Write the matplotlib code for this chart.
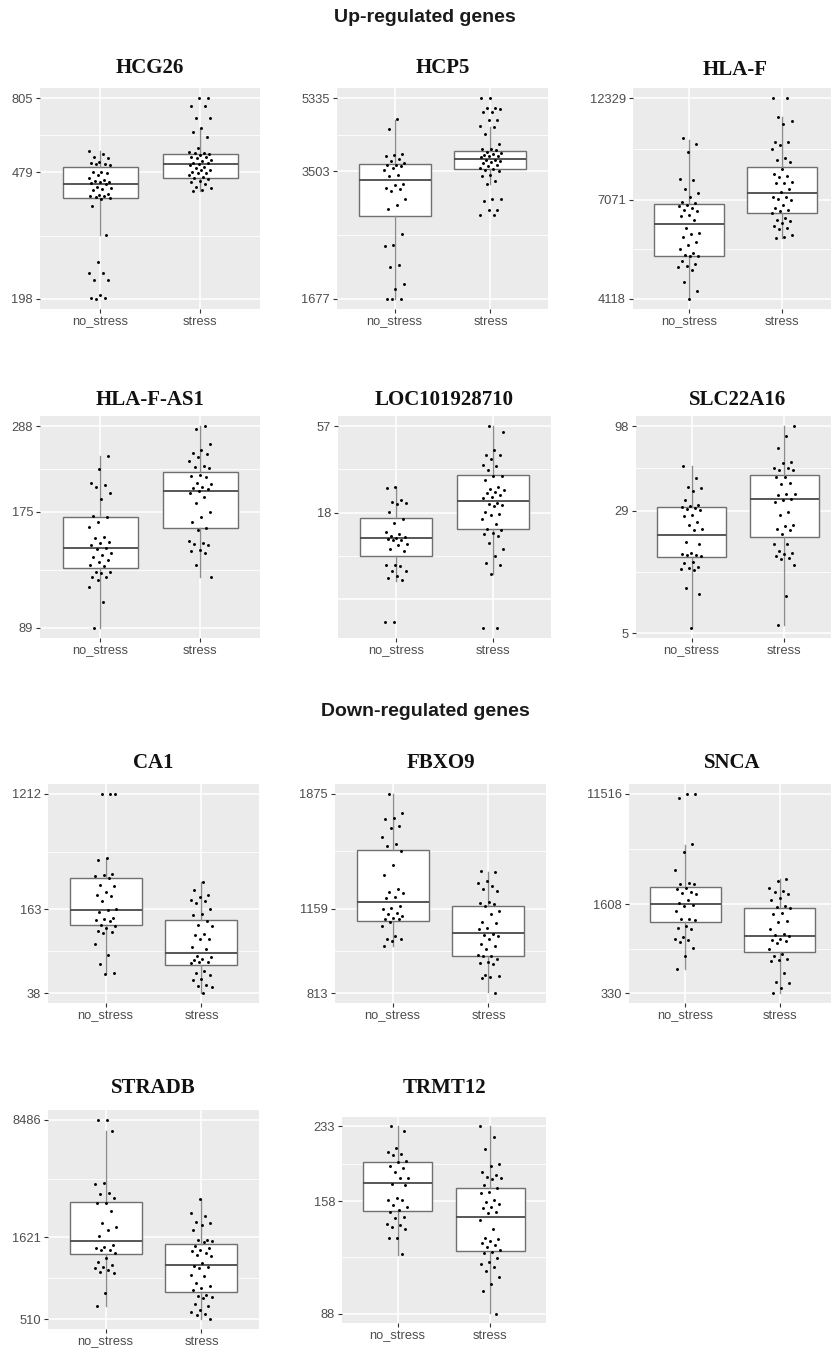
import matplotlib.pyplot as plt
import numpy as np
from matplotlib.ticker import NullLocator

plt.rcParams['font.family'] = ['Liberation Sans', 'DejaVu Sans']

groups = ['no_stress', 'stress']

# ---------------- Up-regulated genes ----------------
hcg26_no = [556, 545, 535, 529, 514, 511, 508, 507, 505, 482, 480, 478, 471, 460, 455, 452, 448,
            447, 445, 443, 434, 430, 427, 425, 412, 410, 407, 405, 403, 400, 398, 380, 310, 257,
            237, 237, 226, 226, 203, 200, 199, 198]
hcg26_st = [805, 805, 763, 763, 702, 702, 655, 633, 612, 569, 554, 550, 548, 545, 541, 535, 532,
            529, 523, 517, 513, 511, 508, 505, 499, 494, 488, 486, 482, 478, 476, 471, 463, 460,
            457, 450, 447, 443, 434, 430, 425, 420]
hcg26_box = [[310, 401, 443, 499, 556], [420, 460, 508, 546, 651]]
hcg26_ticks = [198, 479, 805]

hcp5_no = [4732, 4476, 3871, 3841, 3812, 3754, 3714, 3669, 3633, 3623, 3600, 3564, 3532, 3415,
           3401, 3243, 3231, 3171, 3153, 3123, 2977, 2882, 2814, 2441, 2291, 2273, 2035, 2017,
           1824, 1775, 1677, 1677, 1677]
hcp5_st = [5335, 5335, 5040, 5040, 5020, 4925, 4925, 4695, 4695, 4540, 4505, 4337, 4097, 3982,
           3975, 3960, 3921, 3884, 3871, 3847, 3826, 3812, 3789, 3740, 3725, 3705, 3684, 3669,
           3633, 3600, 3564, 3553, 3532, 3499, 3433, 3401, 3305, 3243, 2977, 2977, 2949, 2804,
           2804, 2717, 2717]
hcp5_box = [[1677, 2708, 3318, 3649, 4695], [3243, 3537, 3747, 3937, 4521]]
hcp5_ticks = [1677, 3503, 5335]

hlaf_no = [9935, 9617, 9192, 7910, 7875, 7505, 7330, 7195, 7003, 6944, 6880, 6856, 6757, 6696,
           6672, 6517, 6482, 6341, 6060, 5898, 5877, 5770, 5616, 5536, 5406, 5290, 5243, 5213,
           5194, 5056, 4985, 4922, 4895, 4814, 4510, 4295, 4118]
hlaf_st = [12329, 12329, 11118, 10879, 10683, 9706, 9706, 9567, 9311, 8881, 8786, 8693, 8368,
           8127, 8067, 8024, 7810, 7767, 7739, 7500, 7396, 7199, 7199, 7108, 7073, 6880, 6757,
           6696, 6672, 6579, 6403, 6341, 6287, 6230, 6117, 6060, 6026, 5844, 5770, 5738]
hlaf_box = [[4142, 5213, 6207, 6904, 9830], [5738, 6601, 7330, 8474, 11118]]
hlaf_ticks = [4118, 7071, 12329]

hlafas1_no = [242.7, 225, 207, 204.3, 202.3, 195.4, 188, 170.8, 169.2, 164.9, 160.4, 151.1,
              150.5, 146.9, 146.1, 144.1, 141.4, 140.6, 137.3, 135.9, 134.6, 132, 130.8, 128.2,
              127.5, 123.4, 122.9, 122.2, 119.7, 119.4, 117.9, 113.1, 103.2, 89]
hlafas1_st = [288, 282.5, 259.4, 250.5, 245.7, 244.3, 240.9, 235.5, 228.2, 226.4, 225.1, 216.5,
              215.3, 214.4, 207.1, 205.5, 202.3, 200.4, 199.2, 197.7, 194.6, 190.1, 183.6, 174.9,
              170, 164.9, 158.8, 157.2, 147.5, 146.1, 144.9, 144.1, 139.9, 139.4, 137.3, 128.2,
              119.7]
hlafas1_box = [[89, 126.3, 141.4, 170, 241.8], [119.7, 159.4, 197.7, 220.8, 288]]
hlafas1_ticks = [89, 175, 288]

loc_no = [25.5, 24.9, 21.3, 20.7, 20.6, 20.2, 18.1, 16.5, 15.7, 13.9, 13.6, 13.3, 13.0, 12.95,
          12.7, 12.5, 12.5, 11.9, 11.8, 11.1, 10.8, 9.0, 9.0, 8.9, 8.35, 8.3, 7.8, 7.6, 7.4, 4.2,
          4.2]
loc_st = [57, 52.8, 41.7, 39.0, 38.6, 37.0, 34.1, 33.6, 31.9, 29.4, 29.2, 27.9, 25.5, 24.7, 24.4,
          23.8, 23.3, 22.8, 22.3, 21.8, 20.4, 20.2, 19.9, 19.7, 18.1, 17.8, 17.4, 16.5, 15.6, 14.6,
          14.3, 13.8, 13.5, 13.3, 12.1, 11.1, 10.2, 9.3, 9.0, 8.0, 3.9, 3.9]
loc_box = [[7.3, 10.2, 12.9, 16.8, 25.5], [8.0, 14.6, 21.0, 29.6, 57]]
loc_ticks = [18, 57]
loc_breaks = [5.7, 18, 57]

slc_no = [55.1, 46.3, 40.9, 40.3, 38.6, 33.8, 31.4, 31.0, 30.7, 30.4, 29.9, 29.2, 27.2, 26.8,
          24.7, 23.6, 22.4, 21.9, 18.5, 18.1, 15.9, 15.7, 15.4, 15.3, 15.1, 13.9, 13.7, 13.0,
          12.8, 12.6, 12.4, 9.6, 8.8, 5.4]
slc_st = [98, 84.9, 71.1, 58.6, 57.8, 54.0, 53.3, 52.0, 52.0, 47.3, 47.3, 43.4, 42.9, 37.2, 36.8,
          36.3, 34.6, 33.8, 32.9, 28.5, 27.2, 23.6, 23.2, 22.2, 21.9, 20.7, 17.9, 17.9, 16.3,
          15.9, 15.7, 15.1, 14.8, 14.6, 13.4, 8.5, 5.6]
slc_box = [[5.4, 14.9, 20.4, 30.7, 55.1], [5.6, 19.9, 34.3, 48.4, 98]]
slc_ticks = [5, 29, 98]

# ---------------- Down-regulated genes ----------------
ca1_no = [1212, 1212, 1212, 398, 382, 303.5, 298.5, 289.4, 281.7, 250, 246.6, 221, 207.4, 205,
          188, 164.6, 161, 156.2, 140.8, 138.4, 135.3, 133, 123.4, 121.9, 118.5, 111.9, 110,
          108.6, 88.8, 73.4, 62.8, 53.6, 53]
ca1_st = [261, 230, 207.4, 202.8, 191.3, 188, 182.6, 164.6, 149.2, 146.7, 133, 123.4, 121.9,
          105.6, 103.8, 97.9, 96.7, 84.8, 82.4, 72.6, 70.6, 69.2, 67.8, 65.4, 64.7, 64.0, 56.0,
          53.6, 52.2, 48.5, 47.9, 43.7, 42.7, 41.9, 38]
ca1_box = [[53.6, 124, 161, 281.7, 391], [38, 61.8, 76.8, 135.3, 261]]
ca1_ticks = [38, 163, 1212]

fbxo9_no = [1875, 1734, 1694, 1687, 1636, 1625, 1562, 1520, 1505, 1474, 1390, 1333, 1256, 1244,
            1239, 1218, 1213, 1171, 1163, 1155, 1139, 1131, 1123, 1116, 1111, 1108, 1096, 1077,
            1031, 1022, 1019, 1010, 991]
fbxo9_st = [1355, 1350, 1300, 1291, 1273, 1259, 1247, 1191, 1184, 1179, 1171, 1147, 1131, 1096,
            1090, 1070, 1062, 1040, 1036, 1031, 1022, 998, 991, 977, 953, 950, 948, 937, 927,
            922, 918, 877, 874, 868, 865, 813]
fbxo9_box = [[991, 1100, 1191, 1480, 1875], [815, 950, 1045, 1174, 1350]]
fbxo9_ticks = [813, 1159, 1875]

snca_no = [11516, 11516, 10791, 4710, 4066, 2985, 2331, 2317, 2290, 2132, 2119, 1996, 1973,
           1916, 1732, 1633, 1576, 1557, 1425, 1242, 1228, 1213, 1092, 1059, 1041, 904, 872,
           851, 821, 742, 640, 506]
snca_st = [2530, 2427, 2157, 2056, 1996, 1916, 1808, 1732, 1557, 1529, 1511, 1383, 1343, 1189,
           1171, 1041, 941, 925, 914, 872, 851, 835, 811, 730, 660, 640, 610, 593, 585, 471, 403,
           398, 358, 330]
snca_box = [[511, 1171, 1608, 2195, 4655], [330, 692, 914, 1511, 2530]]
snca_ticks = [330, 1608, 11516]

stradb_no = [8486, 8486, 7308, 3494, 3428, 3010, 2968, 2806, 2641, 2616, 2361, 1975, 1869, 1783,
             1640, 1460, 1406, 1393, 1361, 1348, 1298, 1210, 1139, 1087, 1066, 1052, 1018, 990,
             980, 741, 609]
stradb_st = [2768, 2273, 2189, 2022, 1993, 1928, 1799, 1565, 1550, 1528, 1507, 1425, 1393, 1361,
             1329, 1298, 1268, 1250, 1128, 1076, 1066, 1052, 944, 936, 852, 814, 794, 769, 714,
             707, 700, 691, 630, 609, 581, 560, 547, 540, 510]
stradb_box = [[615, 1281, 1543, 2654, 7308], [510, 748, 1101, 1479, 2768]]
stradb_ticks = [510, 1621, 8486]

trmt12_no = [233, 227, 208.4, 203.9, 202.1, 200.4, 194.6, 193.6, 189.7, 188.1, 183.9, 178.6,
             177.7, 172.6, 171.7, 160.3, 159.2, 158.5, 155, 153.2, 150.5, 149.2, 145.4, 144.6,
             140.5, 139.8, 138.2, 136.5, 130.6, 130.1, 119.8]
trmt12_st = [233, 220.6, 206.6, 191.3, 189.7, 183.9, 180.8, 179.5, 178.6, 177.1, 171.7, 168.8,
             165.4, 164.8, 158.5, 157.1, 155.8, 153.2, 152.3, 149.2, 148.7, 143, 136.5, 130.6,
             129.6, 128.3, 126.8, 125.7, 124.6, 122.5, 121.1, 120.5, 117.4, 115.4, 113.8, 111.9,
             110, 106.2, 102.4, 98.9, 88]
trmt12_box = [[119.4, 150, 173.5, 193.6, 233], [88.5, 122.1, 145.4, 169.1, 233]]
trmt12_ticks = [88, 158, 233]

panels = [
    ('HCG26', hcg26_no, hcg26_st, hcg26_box, hcg26_ticks, hcg26_ticks),
    ('HCP5', hcp5_no, hcp5_st, hcp5_box, hcp5_ticks, hcp5_ticks),
    ('HLA-F', hlaf_no, hlaf_st, hlaf_box, hlaf_ticks, hlaf_ticks),
    ('HLA-F-AS1', hlafas1_no, hlafas1_st, hlafas1_box, hlafas1_ticks, hlafas1_ticks),
    ('LOC101928710', loc_no, loc_st, loc_box, loc_ticks, loc_breaks),
    ('SLC22A16', slc_no, slc_st, slc_box, slc_ticks, slc_ticks),
    ('CA1', ca1_no, ca1_st, ca1_box, ca1_ticks, ca1_ticks),
    ('FBXO9', fbxo9_no, fbxo9_st, fbxo9_box, fbxo9_ticks, fbxo9_ticks),
    ('SNCA', snca_no, snca_st, snca_box, snca_ticks, snca_ticks),
    ('STRADB', stradb_no, stradb_st, stradb_box, stradb_ticks, stradb_ticks),
    ('TRMT12', trmt12_no, trmt12_st, trmt12_box, trmt12_ticks, trmt12_ticks),
]

# panel rectangles in pixels: left, right, top, bottom ; title y
W, H = 831, 1349
rects = [
    (40, 260, 88, 309, 68), (337, 548, 88, 309, 68), (633, 838, 88, 309, 70),
    (40, 260, 416, 638, 400), (338, 551, 416, 638, 400), (636, 840, 416, 638, 400),
    (48, 259, 784, 1003, 763), (335, 546, 784, 1003, 763), (629, 836, 784, 1003, 763),
    (48, 259, 1110, 1329, 1088), (342, 546, 1117, 1323, 1088),
]

fig = plt.figure(figsize=(W / 100, H / 100), dpi=100)
fig.text(425 / W, 1 - 18 / H, 'Up-regulated genes', ha='center', va='center',
         fontsize=14, fontweight='bold', color='#1a1a1a')
fig.text(425 / W, 1 - 712 / H, 'Down-regulated genes', ha='center', va='center',
         fontsize=14, fontweight='bold', color='#1a1a1a')

for k, (name, v_no, v_st, box, ticks, breaks) in enumerate(panels):
    l, r, t, b, ty = rects[k]
    ax = fig.add_axes([l / W, 1 - b / H, (r - l) / W, (b - t) / H])
    ax.set_facecolor('#EBEBEB')
    for s in ax.spines.values():
        s.set_visible(False)
    ax.set_yscale('log')

    allv = np.array(v_no + v_st, dtype=float)
    lo, hi = np.log10(allv.min()), np.log10(allv.max())
    pad = 0.05 * (hi - lo)
    ax.set_ylim(10 ** (lo - pad), 10 ** (hi + pad))
    ax.set_xlim(0.4, 2.6)

    # grid lines (major at breaks, minor halfway in log space)
    br = sorted(breaks)
    for v in br:
        ax.axhline(v, color='white', lw=1.1, zorder=0.5)
    for a, c in zip(br[:-1], br[1:]):
        ax.axhline(np.sqrt(a * c), color='white', lw=0.6, zorder=0.5)
    for x in (1, 2):
        ax.axvline(x, color='white', lw=1.1, zorder=0.5)

    stats = []
    for g in range(2):
        wl, q1, med, q3, wh = box[g]
        stats.append(dict(whislo=wl, q1=q1, med=med, q3=q3, whishi=wh, fliers=[]))
    ax.bxp(stats, positions=[1, 2], widths=0.75, patch_artist=True, showfliers=False,
           showcaps=False,
           boxprops=dict(facecolor='white', edgecolor='#707070', lw=1.0),
           medianprops=dict(color='#4a4a4a', lw=1.3),
           whiskerprops=dict(color='#8c8c8c', lw=1.0), zorder=2)

    for g, vals in enumerate([v_no, v_st]):
        n = len(vals)
        jit = (np.modf((np.arange(n) + 3 * g + k) * 0.6180339887)[0] - 0.5) * 0.23
        ax.scatter(np.full(n, g + 1) + jit, vals, s=4.5, color='black', lw=0, zorder=3)

    ax.set_yticks(ticks)
    ax.set_yticklabels([str(v) for v in ticks])
    ax.yaxis.set_minor_locator(NullLocator())
    ax.set_xticks([1, 2])
    ax.set_xticklabels(groups)
    ax.tick_params(axis='both', length=3, width=0.8, color='#333333', labelcolor='#4D4D4D',
                   labelsize=9.3, pad=2)

    fig.text((l + r) / 2 / W, 1 - ty / H, name,
             ha='center', va='center', fontsize=15, fontweight='bold',
             family=['Liberation Serif', 'DejaVu Serif'], color='#111111')

fig.savefig('out.png', dpi=100)
